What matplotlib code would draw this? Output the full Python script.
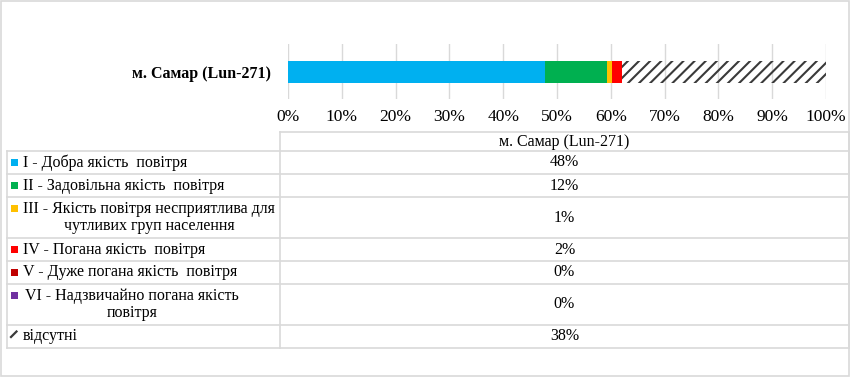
import matplotlib
matplotlib.use("Agg")
import matplotlib.pyplot as plt
from matplotlib.patches import Rectangle

station = "м. Самар (Lun-271)"
categories = [
    "I - Добра якість  повітря",
    "II - Задовільна якість  повітря",
    "III - Якість повітря несприятлива для\nчутливих груп населення",
    "IV - Погана якість  повітря",
    "V - Дуже погана якість  повітря",
    "VI - Надзвичайно погана якість\nповітря",
    "відсутні",
]
values = [47.7, 11.6, 1.0, 1.8, 0.0, 0.0, 37.9]
colors = ["#00B0F0", "#00B050", "#FFC000", "#FF0000", "#C00000", "#7030A0", "none"]
hatches = [None, None, None, None, None, None, "///"]
xticks = list(range(0, 101, 10))

plt.rcParams["font.family"] = ["Liberation Serif", "DejaVu Serif"]
plt.rcParams["hatch.linewidth"] = 1.5

W, H = 850, 377
fig = plt.figure(figsize=(W / 100, H / 100), dpi=100)

# overlay for table and border (pixel coordinates)
ov = fig.add_axes([0, 0, 1, 1])
ov.set_xlim(0, W)
ov.set_ylim(H, 0)
ov.axis("off")
grid_c = "#D9D9D9"
ov.add_patch(Rectangle((0.5, 0.5), 848.5, 375.5, fill=False, edgecolor=grid_c, lw=1.2))

# Bar chart
ax = fig.add_axes([288 / W, 1 - 99 / H, 538 / W, 55 / H])
ax.patch.set_alpha(0)
left = 0.0
for v, c, h in zip(values, colors, hatches):
    if h:
        ax.barh(0, v, left=left, height=0.4, facecolor=c, edgecolor="#3A3A3A", hatch=h, lw=0, zorder=3)
    else:
        ax.barh(0, v, left=left, height=0.4, color=c, lw=0, zorder=3)
    left += v
ax.set_xlim(0, 100)
ax.set_ylim(-0.5, 0.5)
ax.set_xticks(xticks)
ax.set_xticklabels([f"{t}%" for t in xticks], fontsize=12.5)
ax.set_yticks([0])
ax.set_yticklabels([station], fontsize=11.5, fontweight="bold")
ax.tick_params(axis="x", length=0, pad=7)
ax.tick_params(axis="y", length=0, pad=12)
ax.grid(axis="x", color=grid_c, lw=1, zorder=0)
for s in ax.spines.values():
    s.set_visible(False)

# Table
row_edges = [151, 174, 197, 238, 261, 284, 325, 348]
xL, xM, xR = 7, 280, 849
for y in row_edges:
    ov.plot([xL, xR], [y, y], color=grid_c, lw=1.2)
ov.plot([xM, xR], [132, 132], color=grid_c, lw=1.2)
ov.plot([xL, xL], [151, 348], color=grid_c, lw=1.2)
ov.plot([xM, xM], [132, 348], color=grid_c, lw=1.2)
ov.plot([xR, xR], [132, 348], color=grid_c, lw=1.2)

fs = 11.5
ov.text((xM + xR) / 2, 141.5, station, ha="center", va="center", fontsize=fs)

for i, (cat, v, c, h) in enumerate(zip(categories, values, colors, hatches)):
    y0, y1 = row_edges[i], row_edges[i + 1]
    yc = (y0 + y1) / 2
    nlines = cat.count("\n") + 1
    first_y = yc - (nlines - 1) * 8.5
    # marker
    if h:
        ov.plot([11, 16.5], [first_y + 0.5, first_y - 5], color="#3A3A3A", lw=1.6)
    else:
        ov.add_patch(Rectangle((11, first_y - 3.8), 7, 7, facecolor=c, edgecolor="none"))
    tx = 25 if cat.startswith("VI") else 23
    ov.text(tx, yc, cat, ha="left", va="center", multialignment="center",
            fontsize=fs, linespacing=1.05)
    ov.text((xM + xR) / 2, yc, f"{round(v):.0f}%", ha="center", va="center", fontsize=fs)

fig.savefig("out.png", dpi=100)
